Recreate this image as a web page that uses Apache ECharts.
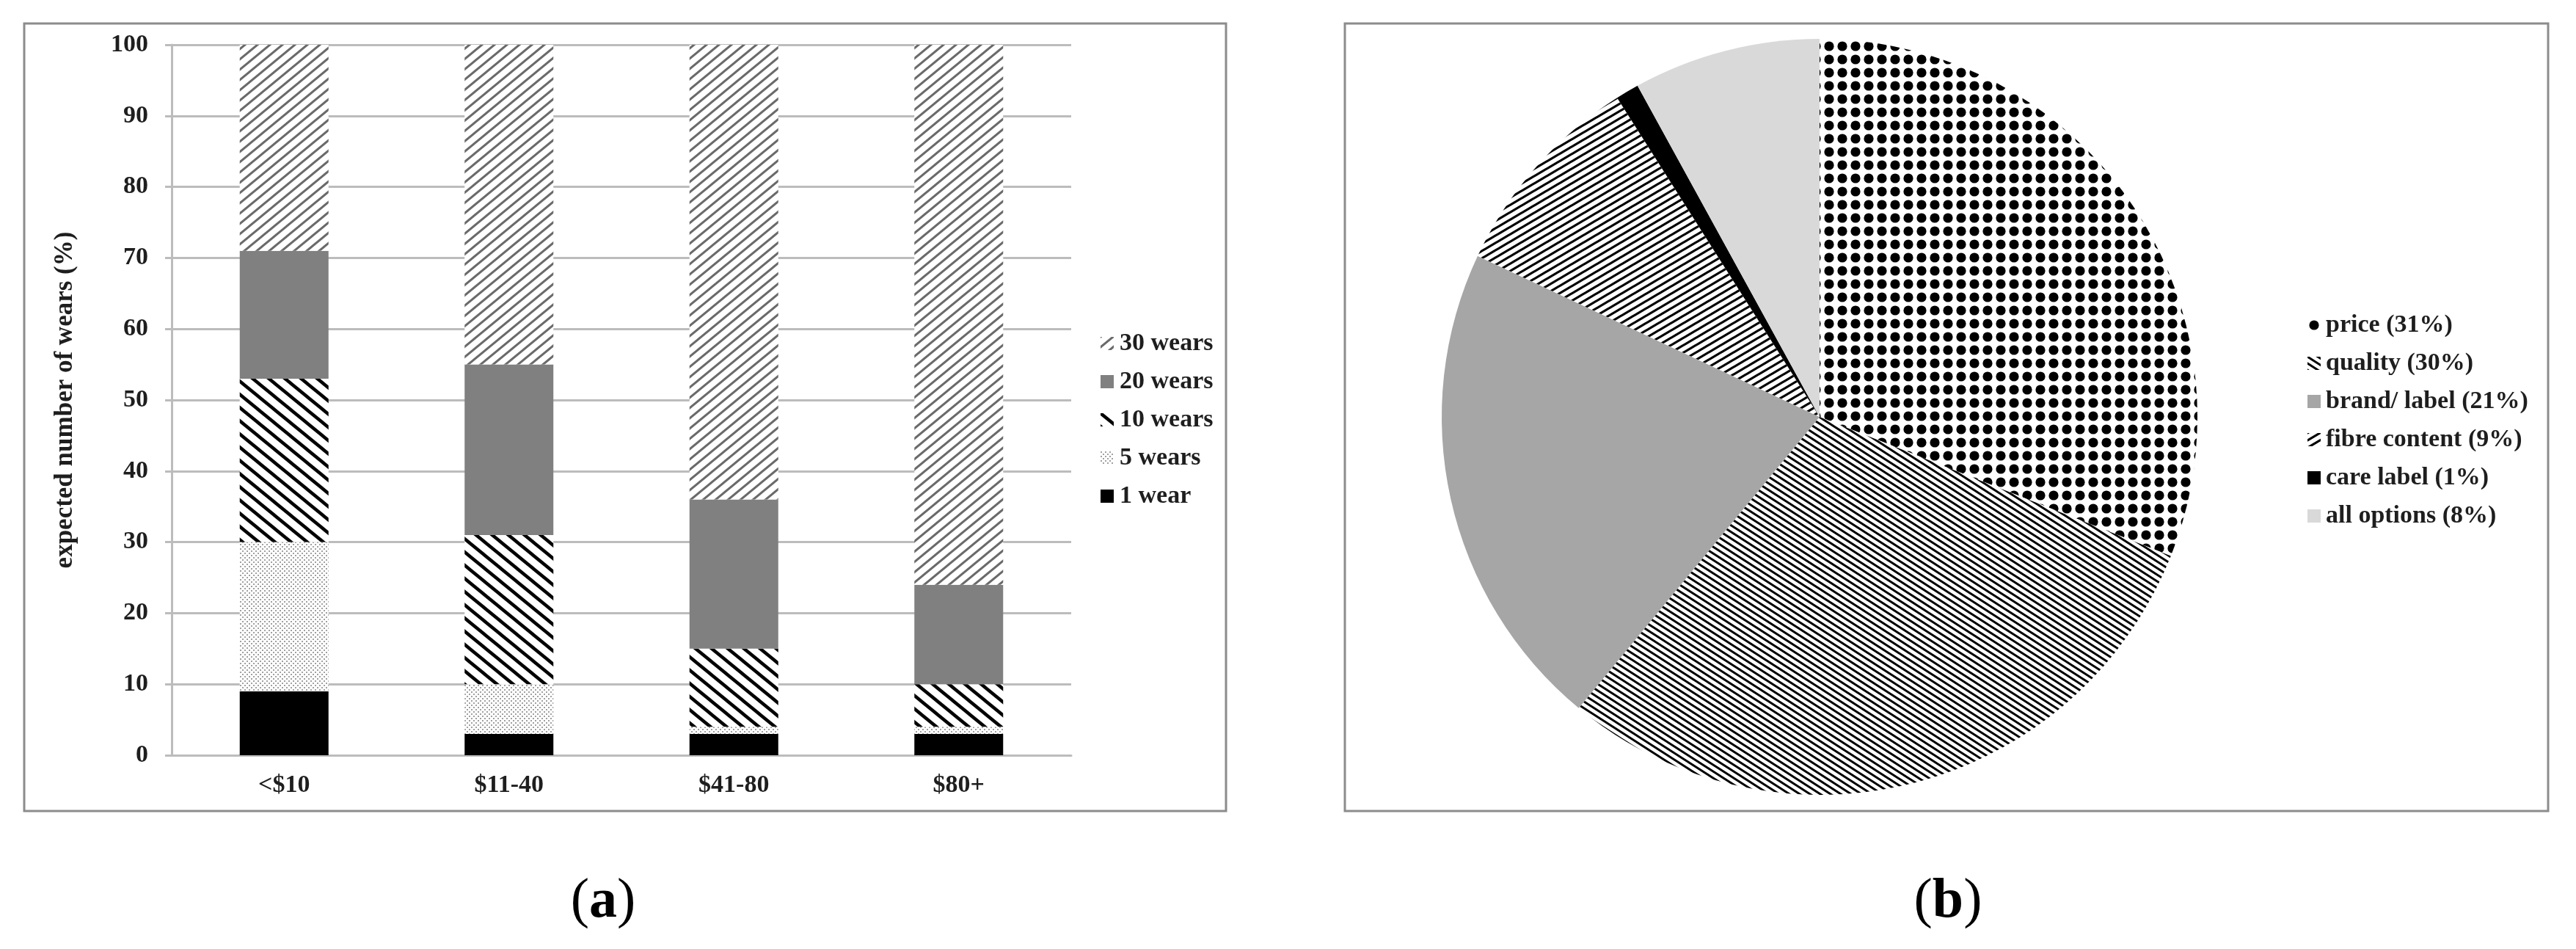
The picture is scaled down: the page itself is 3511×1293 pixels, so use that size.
<!DOCTYPE html>
<html>
<head>
<meta charset="utf-8">
<script src="https://cdn.jsdelivr.net/npm/echarts@6/dist/echarts.min.js"></script>
<style>
  html, body { margin: 0; padding: 0; background: #fff; }
  #chart { width: 3511px; height: 1293px; }
</style>
</head>
<body>
<div id="chart"></div>
<script>
// (a) expected number of wears per price band (%)
const priceBands = ['<$10', '$11-40', '$41-80', '$80+']
const wear1 = [9, 3, 3, 3]
const wear5 = [21, 7, 1, 1]
const wear10 = [23, 21, 11, 6]
const wear20 = [18, 24, 21, 14]
const wear30 = [29, 45, 64, 76]
const wearLegend = ['30 wears', '20 wears', '10 wears', '5 wears', '1 wear']

// (b) what matters most when buying
const factorNames = ['price (31%)', 'quality (30%)', 'brand/ label (21%)', 'fibre content (9%)', 'care label (1%)', 'all options (8%)']
const factorShares = [31, 30, 21, 9, 1, 8]

const FONT = 'Liberation Serif'

// tileable line hatch, w x h tile, down = '\' direction
function hatch (w, h, lineW, color, down) {
  const c = document.createElement('canvas')
  c.width = w
  c.height = h
  const ctx = c.getContext('2d')
  ctx.fillStyle = '#fff'
  ctx.fillRect(0, 0, w, h)
  ctx.strokeStyle = color
  ctx.lineWidth = lineW
  for (let k = -2; k <= 2; k++) {
    ctx.beginPath()
    if (down) {
      ctx.moveTo(-w, -h + k * h)
      ctx.lineTo(2 * w, 2 * h + k * h)
    } else {
      ctx.moveTo(-w, 2 * h + k * h)
      ctx.lineTo(2 * w, -h + k * h)
    }
    ctx.stroke()
  }
  return { image: c, repeat: 'repeat' }
}

function dots (size, r, color) {
  const c = document.createElement('canvas')
  c.width = size
  c.height = size
  const ctx = c.getContext('2d')
  ctx.fillStyle = '#fff'
  ctx.fillRect(0, 0, size, size)
  ctx.fillStyle = color
  ctx.beginPath()
  ctx.arc(size / 2, size / 2, r, 0, Math.PI * 2)
  ctx.fill()
  return { image: c, repeat: 'repeat' }
}

function speckle () {
  const c = document.createElement('canvas')
  c.width = 6
  c.height = 6
  const ctx = c.getContext('2d')
  ctx.fillStyle = '#fff'
  ctx.fillRect(0, 0, 6, 6)
  ctx.fillStyle = '#a0a0a0'
  ctx.fillRect(0, 0, 2, 2)
  ctx.fillRect(3, 3, 2, 2)
  return { image: c, repeat: 'repeat' }
}

const wearColors = {
  '1 wear': '#000',
  '5 wears': speckle(),
  '10 wears': hatch(22, 18, 4.5, '#000', true),
  '20 wears': '#808080',
  '30 wears': hatch(17, 14, 3, '#6a6a6a', false)
}
const factorColors = [
  dots(18, 6.6, '#000'),
  hatch(14, 9, 3, '#000', true),
  '#a6a6a6',
  hatch(17, 10, 3.2, '#000', false),
  '#000',
  '#d9d9d9'
]

const wearData = [wear1, wear5, wear10, wear20, wear30]
const wearNames = ['1 wear', '5 wears', '10 wears', '20 wears', '30 wears']

const labelStyle = { fontFamily: FONT, fontWeight: 'bold', fontSize: 34, color: '#1e1e1e' }
const panelRich = {
  p: { fontFamily: FONT, fontSize: 76, fill: '#000' },
  b: { fontFamily: FONT, fontSize: 76, fontWeight: 'bold', fill: '#000' }
}

const myChart = echarts.init(document.getElementById('chart'))
myChart.setOption({
  animation: false,
  graphic: [
    { type: 'rect', shape: { x: 33, y: 32, width: 1638, height: 1073 }, style: { fill: 'none', stroke: '#8c8c8c', lineWidth: 3 }, z: -1 },
    { type: 'rect', shape: { x: 1833, y: 32, width: 1640, height: 1073 }, style: { fill: 'none', stroke: '#8c8c8c', lineWidth: 3 }, z: -1 },
    {
      type: 'text', x: 822, y: 1229,
      style: { text: '{p|(}{b|a}{p|)}', align: 'center', verticalAlign: 'middle', rich: panelRich }
    },
    {
      type: 'text', x: 2655, y: 1229,
      style: { text: '{p|(}{b|b}{p|)}', align: 'center', verticalAlign: 'middle', rich: panelRich }
    }
  ],
  grid: {
    left: 234,
    top: 61,
    width: 1226,
    height: 968
  },
  legend: [
    {
      data: wearLegend,
      orient: 'vertical',
      left: 1495,
      top: 446,
      icon: 'rect',
      itemWidth: 18,
      itemHeight: 18,
      itemGap: 18,
      textStyle: Object.assign({ lineHeight: 34, padding: [0, 0, 0, 3] }, labelStyle)
    },
    {
      data: factorNames,
      orient: 'vertical',
      left: 3140,
      top: 421,
      icon: 'rect',
      itemWidth: 18,
      itemHeight: 18,
      itemGap: 18,
      textStyle: Object.assign({ lineHeight: 34, padding: [0, 0, 0, 2] }, labelStyle)
    }
  ],
  xAxis: {
    type: 'category',
    data: priceBands,
    axisLine: { lineStyle: { color: '#bcbcbc', width: 3 } },
    axisTick: { length: 9, lineStyle: { color: '#bcbcbc', width: 3 } },
    axisLabel: Object.assign({ margin: 24 }, labelStyle)
  },
  yAxis: {
    type: 'value',
    min: 0,
    max: 100,
    interval: 10,
    name: 'expected number of wears (%)',
    nameLocation: 'middle',
    nameGap: 128,
    nameTextStyle: { fontFamily: FONT, fontWeight: 'bold', fontSize: 35, color: '#1e1e1e' },
    axisLine: { show: true, lineStyle: { color: '#bcbcbc', width: 3 } },
    axisTick: { show: true, length: 9, lineStyle: { color: '#bcbcbc', width: 3 } },
    splitLine: { lineStyle: { color: '#bcbcbc', width: 3 } },
    axisLabel: Object.assign({ margin: 32 }, labelStyle)
  },
  series: wearNames.map((name, i) => {
    return {
      name: name,
      type: 'bar',
      stack: 'wears',
      barWidth: 121,
      data: wearData[i],
      itemStyle: { color: wearColors[name] },
      emphasis: { disabled: true }
    }
  }).concat([{
    type: 'pie',
    center: [2480, 568],
    radius: 515,
    startAngle: 90,
    clockwise: true,
    label: { show: false },
    labelLine: { show: false },
    emphasis: { disabled: true },
    data: factorNames.map((name, i) => {
      return { name: name, value: factorShares[i], itemStyle: { color: factorColors[i] } }
    })
  }])
})
</script>
</body>
</html>
